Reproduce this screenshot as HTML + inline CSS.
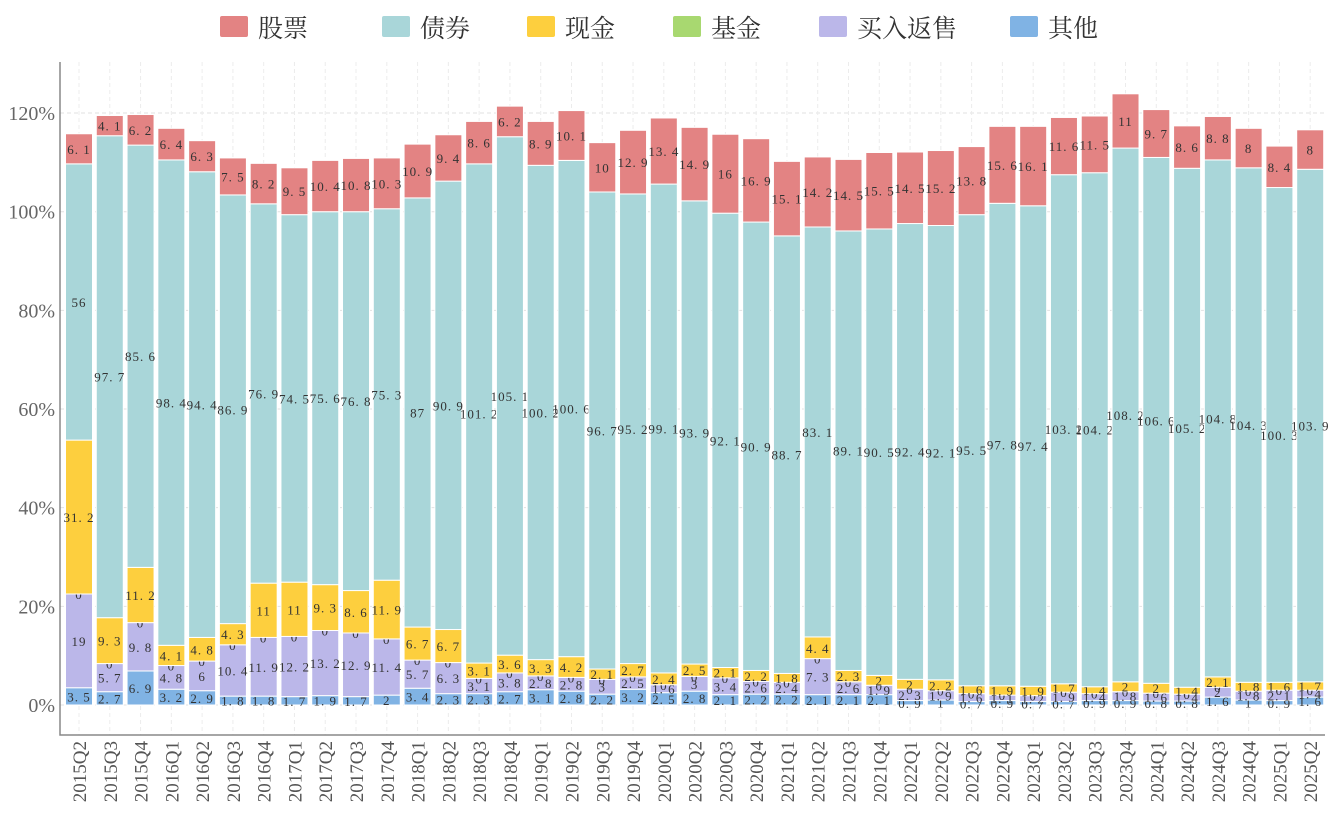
<!DOCTYPE html>
<html><head><meta charset="utf-8">
<style>
html,body{margin:0;padding:0;background:#fff;}
svg{display:block;}
text{font-family:"Liberation Serif","Noto Serif CJK SC",serif;}
</style></head>
<body>
<svg id="chart" width="1335" height="822" xmlns="http://www.w3.org/2000/svg"></svg>
<script>
const categories=["2015Q2","2015Q3","2015Q4","2016Q1","2016Q2","2016Q3","2016Q4","2017Q1","2017Q2","2017Q3","2017Q4","2018Q1","2018Q2","2018Q3","2018Q4","2019Q1","2019Q2","2019Q3","2019Q4","2020Q1","2020Q2","2020Q3","2020Q4","2021Q1","2021Q2","2021Q3","2021Q4","2022Q1","2022Q2","2022Q3","2022Q4","2023Q1","2023Q2","2023Q3","2023Q4","2024Q1","2024Q2","2024Q3","2024Q4","2025Q1","2025Q2"];
const other=[3.5,2.7,6.9,3.2,2.9,1.8,1.8,1.7,1.9,1.7,2,3.4,2.3,2.3,2.7,3.1,2.8,2.2,3.2,2.5,2.8,2.1,2.2,2.2,2.1,2.1,2.1,0.9,1,0.7,0.9,0.7,0.7,0.9,0.9,0.8,0.8,1.6,1,0.9,1.6];
const repo=[19,5.7,9.8,4.8,6,10.4,11.9,12.2,13.2,12.9,11.4,5.7,6.3,3.1,3.8,2.8,2.8,3,2.5,1.6,3,3.4,2.6,2.4,7.3,2.6,1.9,2.3,1.9,1.6,1.1,1.2,1.9,1.4,1.8,1.6,1.4,2,1.8,2.1,1.4];
const fund=new Array(41).fill(0);
const cash=[31.2,9.3,11.2,4.1,4.8,4.3,11,11,9.3,8.6,11.9,6.7,6.7,3.1,3.6,3.3,4.2,2.1,2.7,2.4,2.5,2.1,2.2,1.8,4.4,2.3,2,2,2.2,1.6,1.9,1.9,1.7,1.4,2,2,1.4,2.1,1.8,1.6,1.7];
const bond=[56,97.7,85.6,98.4,94.4,86.9,76.9,74.5,75.6,76.8,75.3,87,90.9,101.2,105.1,100.2,100.6,96.7,95.2,99.1,93.9,92.1,90.9,88.7,83.1,89.1,90.5,92.4,92.1,95.5,97.8,97.4,103.2,104.2,108.2,106.6,105.2,104.8,104.3,100.3,103.9];
const stock=[6.1,4.1,6.2,6.4,6.3,7.5,8.2,9.5,10.4,10.8,10.3,10.9,9.4,8.6,6.2,8.9,10.1,10,12.9,13.4,14.9,16,16.9,15.1,14.2,14.5,15.5,14.5,15.2,13.8,15.6,16.1,11.6,11.5,11,9.7,8.6,8.8,8,8.4,8];
const yTicks=[0,20,40,60,80,100,120];

const svg=document.getElementById('chart');
const NS='http://www.w3.org/2000/svg';
function mk(tag,attrs,parent){const e=document.createElementNS(NS,tag);for(const k in attrs)e.setAttribute(k,attrs[k]);(parent||svg).appendChild(e);return e;}
const x0=60,plotR=1325,yBase=705,pxPer=4.933,bw=27;
const xc=i=>79+i*30.78;
const y=v=>yBase-v*pxPer;

const series=[
 {name:"其他",data:other,color:"#80b3e4"},
 {name:"买入返售",data:repo,color:"#bbb7e9"},
 {name:"基金",data:fund,color:"#a8d870"},
 {name:"现金",data:cash,color:"#fdcf3e"},
 {name:"债券",data:bond,color:"#a9d6d9"},
 {name:"股票",data:stock,color:"#e38383"}
];
yTicks.forEach(t=>{
 const g=mk('line',{x1:x0,x2:plotR,y1:y(t),y2:y(t),stroke:'#e2e2e2','stroke-dasharray':'4,3'});
 
 
 const tl=mk('text',{x:55,y:y(t)+7,'text-anchor':'end','font-size':20,fill:'#666'});
 tl.textContent=t+'%';
 
 
});
categories.forEach((c,i)=>{
 const g=mk('line',{x1:xc(i),x2:xc(i),y1:62,y2:735,stroke:'#ececec','stroke-dasharray':'4,3'});
 
 
});
categories.forEach((c,i)=>{
 let acc=0;
 series.forEach(s=>{
  const v=s.data[i];
  const r=mk('rect',{x:xc(i)-bw/2,y:y(acc+v),width:bw,height:v*pxPer,fill:s.color,stroke:'#fff','stroke-width':1});
  
  
  const t=mk('text',{x:xc(i),y:y(acc+v/2)+5,'text-anchor':'middle','font-size':13,fill:'#333','letter-spacing':'1'});
  t.textContent=String(v).replace('.','. ');
  
  
  acc+=v;
 });
 const xl=mk('text',{transform:`translate(${xc(i)+7},741) rotate(-90)`,'text-anchor':'end','font-size':19,fill:'#555'});
 xl.textContent=c;
 
 
});
const ax=mk('path',{d:`M${x0},62 V735 H${plotR}`,fill:'none',stroke:'#888','stroke-width':1.5});


const legItems=[["股票","#e38383",220],["债券","#a9d6d9",382],["现金","#fdcf3e",527],["基金","#a8d870",673],["买入返售","#bbb7e9",819],["其他","#80b3e4",1010]];
legItems.forEach(l=>{
 const r=mk('rect',{x:l[2],y:16,width:28,height:21,fill:l[1],rx:2});
 
 
 const t=mk('text',{x:l[2]+38,y:37,'font-size':25,fill:'#333'});
 t.textContent=l[0];
 
 
});
</script>
</body></html>
